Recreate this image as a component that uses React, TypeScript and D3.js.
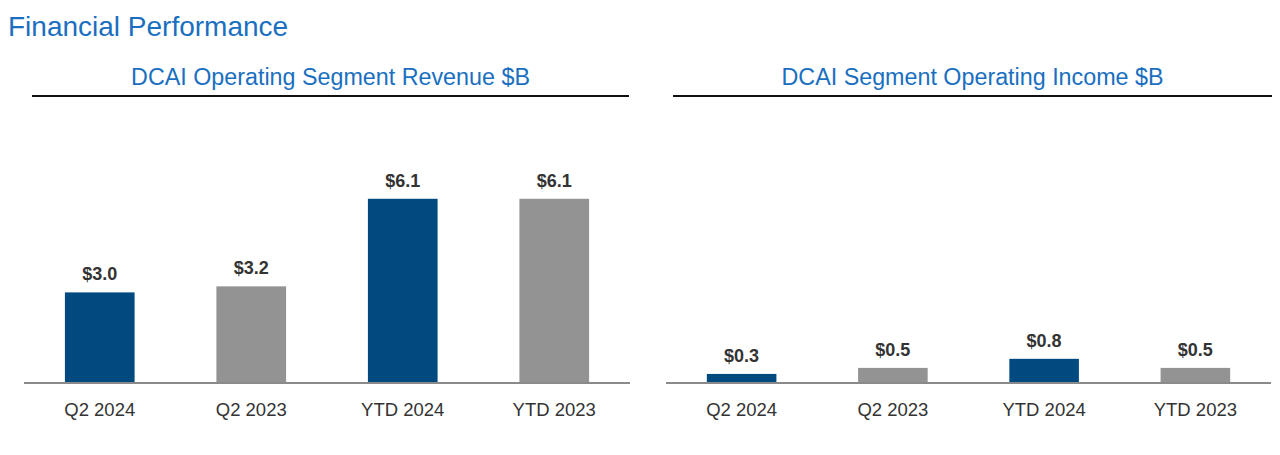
import React from "react";
import * as d3 from "d3";

const categories = ["Q2 2024", "Q2 2023", "YTD 2024", "YTD 2023"];
const revenueValues = [3.0, 3.2, 6.1, 6.1];
const incomeValues = [0.3, 0.5, 0.8, 0.5];
const revenueLabels = ["$3.0", "$3.2", "$6.1", "$6.1"];
const incomeLabels = ["$0.3", "$0.5", "$0.8", "$0.5"];
const barColors = ["#004a80", "#939393", "#004a80", "#939393"];

const FONT = "'Liberation Sans', Arial, Helvetica, sans-serif";
const W = 1280;
const H = 455;
const BASE = 383;
const PX_PER_UNIT = 30.2;

function Panel({ title, values, labels, x0, x1, lineX0, lineX1 }: any) {
  const x = d3.scaleBand<string>().domain(categories).range([x0, x1]).paddingInner(0.54).paddingOuter(0.27);
  const y = d3.scaleLinear().domain([0, 7]).range([BASE, BASE - 7 * PX_PER_UNIT]);
  const cx = (lineX0 + lineX1) / 2;
  return (
    <g>
      <text x={cx} y={85} textAnchor="middle" fontFamily={FONT} fontSize={23.3} fill="#1a6fc0">{title}</text>
      <line x1={lineX0} x2={lineX1} y1={96} y2={96} stroke="#111" strokeWidth={2} />
      {categories.map((c, i) => (
        <g key={c}>
          <rect x={x(c)} y={y(values[i])} width={x.bandwidth()} height={y(0) - y(values[i])} fill={barColors[i]} />
          <text x={(x(c) as number) + x.bandwidth() / 2} y={y(values[i]) - 12} textAnchor="middle" fontFamily={FONT} fontWeight="bold" fontSize={18} fill="#333">{labels[i]}</text>
          <text x={(x(c) as number) + x.bandwidth() / 2} y={416} textAnchor="middle" fontFamily={FONT} fontSize={18.5} fill="#333">{c}</text>
        </g>
      ))}
      <line x1={x0} x2={x1} y1={BASE} y2={BASE} stroke="#8a8a8a" strokeWidth={2} />
    </g>
  );
}

export default function App() {
  return (
    <svg width={W} height={H} style={{ position: "absolute", left: 0, top: 0, background: "#fff" }}>
      <rect width={W} height={H} fill="#fff" />
      <text x={8} y={36} fontFamily={FONT} fontSize={28} fill="#1a6fc0">Financial Performance</text>
      <Panel title="DCAI Operating Segment Revenue $B" values={revenueValues} labels={revenueLabels} x0={24} x1={630} lineX0={32} lineX1={629} />
      <Panel title="DCAI Segment Operating Income $B" values={incomeValues} labels={incomeLabels} x0={666} x1={1271} lineX0={673} lineX1={1272} />
    </svg>
  );
}
